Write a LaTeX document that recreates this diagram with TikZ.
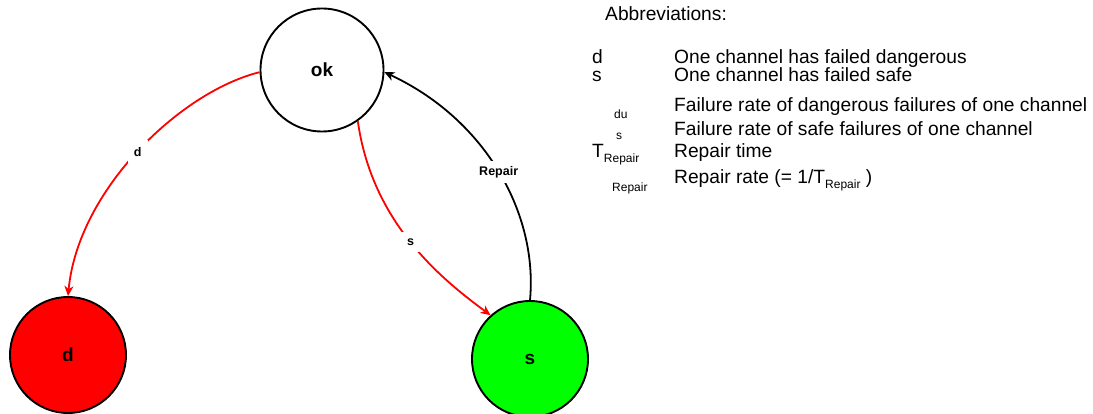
\documentclass[tikz,border=0pt]{standalone}
\usepackage{fontspec}
\setmainfont{Liberation Sans}
\usetikzlibrary{arrows.meta}
\tikzset{
  statenode/.style={circle, draw=black, line width=1.9pt, inner sep=0pt, font=\fontsize{19}{19}\selectfont\bfseries},
  edgeline/.style={line width=1.8pt, -{Stealth[length=10pt,width=9pt,inset=3pt]}},
  edgelabel/.style={fill=white, inner xsep=6pt, inner ysep=7pt, text=black, font=\fontsize{12.5}{12.5}\selectfont\bfseries},
  legtext/.style={anchor=base west, inner sep=0pt, font=\fontsize{19.2}{19.2}\selectfont},
  legsub/.style={anchor=base west, inner sep=0pt, font=\fontsize{12}{12}\selectfont},
}
\newcommand{\subrep}{\raisebox{-5pt}{\fontsize{12}{12}\selectfont Repair}}
\begin{document}
\begin{tikzpicture}[x=1pt,y=-1pt]
\useasboundingbox (0,0) rectangle (1093,414);
% states
\node[statenode, fill=white, minimum size=123pt] (ok) at (322,70) {ok};
\node[statenode, fill=red, minimum size=116pt] (d) at (68,355) {d};
\node[statenode, fill={rgb,255:red,0;green,255;blue,0}, minimum size=116pt] (s) at (530,359) {s};
% transitions
\draw[edgeline, red] (ok.182) .. controls (180,92) and (78,190) .. (d.north)
  node[edgelabel, pos=0.5] (ld) {d};
\draw[edgeline, red] (ok.-55) .. controls (372,222) and (440,278) .. (s.132)
  node[edgelabel, pos=0.5] (ls) {s};
\draw[edgeline, black] (s.north) .. controls (538,215) and (487,120) .. (ok.-2)
  node[edgelabel, inner xsep=3pt, inner ysep=5pt, pos=0.5] (lr) {Repair};
% legend
\node[legtext] (ab) at (605,21) {Abbreviations:};
\node[legtext] (k1) at (592,64) {d};
\node[legtext] (k2) at (592,82) {s};
\node[legsub] (k3) at (614,119) {du};
\node[legsub] (k4) at (616,140) {s};
\node[legtext] (k5) at (592,158) {T\subrep};
\node[legsub] (k6) at (612,192) {Repair};
\node[legtext] (v1) at (674,64) {One channel has failed dangerous};
\node[legtext] (v2) at (674,82) {One channel has failed safe};
\node[legtext] (v3) at (674,112) {Failure rate of dangerous failures of one channel};
\node[legtext] (v4) at (674,136) {Failure rate of safe failures of one channel};
\node[legtext] (v5) at (674,158) {Repair time};
\node[legtext] (v6) at (674,184) {Repair rate (= 1/T\subrep{} )};
\end{tikzpicture}
\end{document}
